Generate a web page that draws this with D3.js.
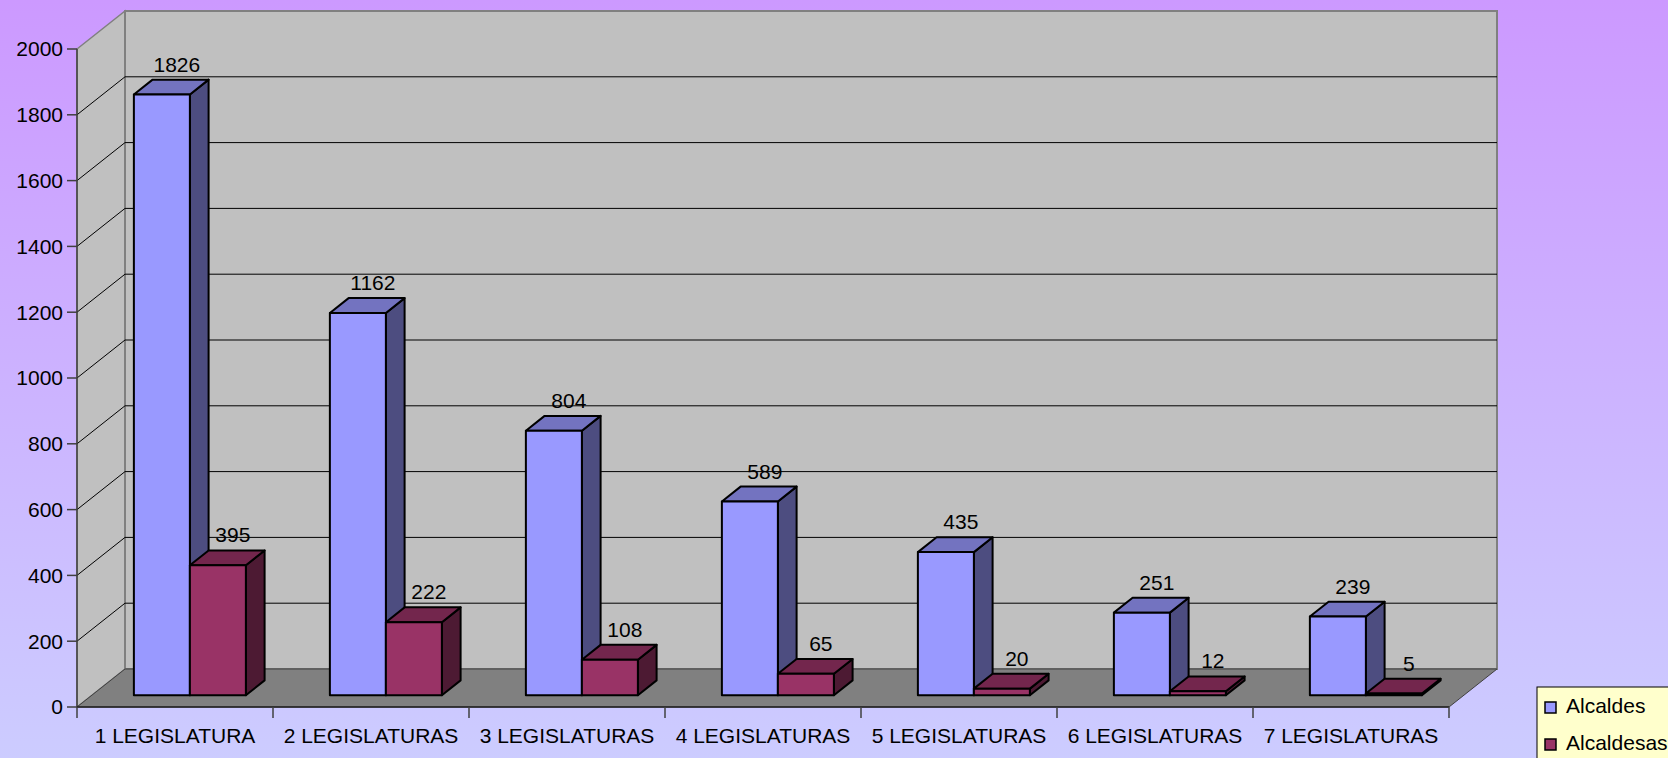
<!DOCTYPE html>
<meta charset="utf-8">
<head>
<title>Alcaldes y alcaldesas por legislaturas</title>
<style>
  body { margin: 0; overflow: hidden; }
  svg { display: block; }
  text { font-family: Arial, "Liberation Sans", sans-serif; fill: #000; }
</style>
</head>
<body>
<script src="https://d3js.org/d3.v7.min.js"></script>
<div id="chart"></div>
<script>

// data
const categories = ["1 LEGISLATURA", "2 LEGISLATURAS", "3 LEGISLATURAS", "4 LEGISLATURAS",
                    "5 LEGISLATURAS", "6 LEGISLATURAS", "7 LEGISLATURAS"];
const alcaldes   = [1826, 1162, 804, 589, 435, 251, 239];
const alcaldesas = [395, 222, 108, 65, 20, 12, 5];
const seriesNames = ["Alcaldes", "Alcaldesas"];
const yTicks = [0, 200, 400, 600, 800, 1000, 1200, 1400, 1600, 1800, 2000];

const width = 1668, height = 758;
const fs = 21;

// 3d depth of the plot box
const DX = 48, DY = 38;
const f1 = 0.31, f2 = 0.70;   // bar front/back as fraction of depth

const colors = [
  { front: "#9999ff", top: "#7373c0", side: "#4d4d80" },
  { front: "#993366", top: "#73264d", side: "#4d1a33" }
];

const svg = d3.select("#chart").append("svg")
    .attr("width", width)
    .attr("height", height);

const defs = svg.append("defs");
const grad = defs.append("linearGradient")
    .attr("id", "bg").attr("x1", 0).attr("y1", 0).attr("x2", 0).attr("y2", 1);
grad.append("stop").attr("offset", "0%").attr("stop-color", "#cc99ff");
grad.append("stop").attr("offset", "100%").attr("stop-color", "#ccccff");

svg.append("rect").attr("width", width).attr("height", height).attr("fill", "url(#bg)");

const x0 = d3.scaleBand().domain(categories).range([77, 1449]);
const y = d3.scaleLinear().domain([0, 2000]).range([707, 49]);

const left = x0.range()[0], right = x0.range()[1];
const y0 = y(0), yTop = y(2000);

const pts = a => a.map(p => p.join(",")).join(" ");

// side wall
svg.append("polygon")
    .attr("points", pts([[left, yTop], [left + DX, yTop - DY], [left + DX, y0 - DY], [left, y0]]))
    .attr("fill", "#c0c0c0").attr("stroke", "#808080").attr("stroke-width", 1.5);
// back wall
svg.append("polygon")
    .attr("points", pts([[left + DX, yTop - DY], [right + DX, yTop - DY], [right + DX, y0 - DY], [left + DX, y0 - DY]]))
    .attr("fill", "#c0c0c0").attr("stroke", "#808080").attr("stroke-width", 2);
// floor
svg.append("polygon")
    .attr("points", pts([[left, y0], [left + DX, y0 - DY], [right + DX, y0 - DY], [right, y0]]))
    .attr("fill", "#808080").attr("stroke", "#404040").attr("stroke-width", 1);

// gridlines
const grid = svg.append("g");
yTicks.filter(v => v > 0 && v < 2000).forEach(v => {
  grid.append("polyline")
      .attr("points", pts([[left, y(v)], [left + DX, y(v) - DY], [right + DX, y(v) - DY]]))
      .attr("fill", "none").attr("stroke", "#000").attr("stroke-width", 1);
});

// axes
svg.append("line").attr("x1", left).attr("x2", left).attr("y1", yTop).attr("y2", y0)
    .attr("stroke", "#404040").attr("stroke-width", 1.5);
svg.append("line").attr("x1", left).attr("x2", right).attr("y1", y0).attr("y2", y0)
    .attr("stroke", "#202020").attr("stroke-width", 1.5);

const yAxis = svg.append("g");
yTicks.forEach(v => {
  yAxis.append("line").attr("x1", left - 10).attr("x2", left).attr("y1", y(v)).attr("y2", y(v))
      .attr("stroke", "#404040").attr("stroke-width", 1.5);
  yAxis.append("text").attr("x", left - 14).attr("y", y(v)).attr("dy", "0.35em")
      .attr("text-anchor", "end").attr("font-size", fs).text(v);
});

const xAxis = svg.append("g");
categories.concat([null]).forEach((c, i) => {
  const xx = c ? x0(c) : right;
  xAxis.append("line").attr("x1", xx).attr("x2", xx).attr("y1", y0).attr("y2", y0 + 11)
      .attr("stroke", "#404040").attr("stroke-width", 1.5);
});
categories.forEach(c => {
  xAxis.append("text").attr("x", x0(c) + x0.bandwidth() / 2).attr("y", 743)
      .attr("text-anchor", "middle").attr("font-size", fs).text(c);
});

// bars
const w = x0.bandwidth() / 3.5;
const series = [alcaldes, alcaldesas];
const bars = svg.append("g");
const labels = svg.append("g");

categories.forEach((c, ci) => {
  series.forEach((vals, si) => {
    const v = vals[ci];
    const bx = x0(c) + x0.bandwidth() / 2 - w + si * w;
    const ax = bx + f1 * DX, bw = w;
    const ayTop = y(v) - f1 * DY, ayBot = y(0) - f1 * DY;
    const ddx = (f2 - f1) * DX, ddy = (f2 - f1) * DY;
    const col = colors[si];
    const g = bars.append("g").attr("stroke", "#000").attr("stroke-width", 2).attr("stroke-linejoin", "round");
    // side
    g.append("polygon")
        .attr("points", pts([[ax + bw, ayTop], [ax + bw + ddx, ayTop - ddy], [ax + bw + ddx, ayBot - ddy], [ax + bw, ayBot]]))
        .attr("fill", col.side);
    // top
    g.append("polygon")
        .attr("points", pts([[ax, ayTop], [ax + ddx, ayTop - ddy], [ax + bw + ddx, ayTop - ddy], [ax + bw, ayTop]]))
        .attr("fill", col.top);
    // front
    g.append("rect").attr("x", ax).attr("y", ayTop).attr("width", bw).attr("height", ayBot - ayTop)
        .attr("fill", col.front);

    labels.append("text")
        .attr("x", ax + 43).attr("y", ayTop - ddy - 8)
        .attr("text-anchor", "middle").attr("font-size", fs).text(v);
  });
});

// legend
const legend = svg.append("g");
legend.append("rect").attr("x", 1537).attr("y", 687).attr("width", 200).attr("height", 90)
    .attr("fill", "#ffffcc").attr("stroke", "#000").attr("stroke-width", 1);
seriesNames.forEach((name, i) => {
  legend.append("rect").attr("x", 1545).attr("y", 702 + i * 37).attr("width", 11).attr("height", 11)
      .attr("fill", colors[i].front).attr("stroke", "#000").attr("stroke-width", 1.5);
  legend.append("text").attr("x", 1566).attr("y", 713 + i * 37)
      .attr("font-size", fs).text(name);
});

</script>
</body>
